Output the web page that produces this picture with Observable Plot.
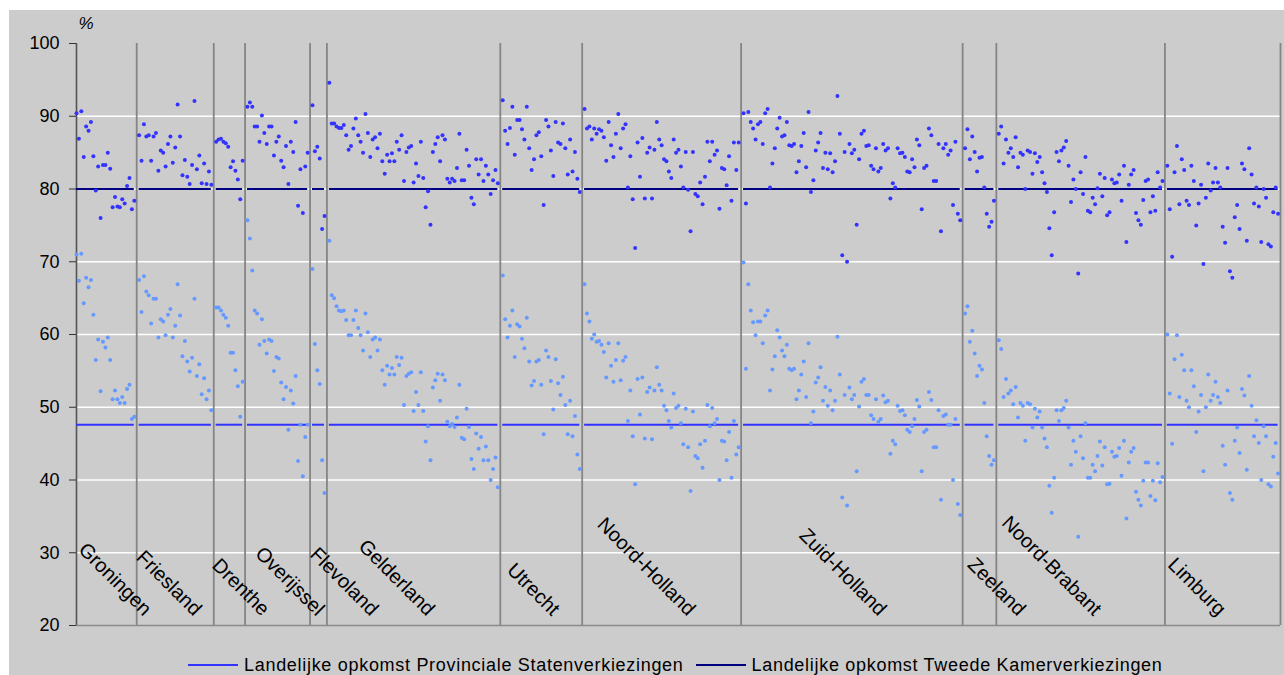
<!DOCTYPE html>
<html>
<head>
<meta charset="utf-8">
<script src="https://cdn.jsdelivr.net/npm/d3@7"></script>
<script src="https://cdn.jsdelivr.net/npm/@observablehq/plot@0.6"></script>
<style>
  body { margin: 0; background: #ffffff; font-family: "Liberation Sans", Arial, sans-serif; }
  #frame { position: absolute; left: 9px; top: 10px; width: 1275px; height: 665px; background: #cccccc; }
  #chart { position: absolute; left: 0; top: 0; }
  #legend { position: absolute; left: 188px; top: 650px; height: 30px; display: flex; align-items: center;
            font-size: 18px; letter-spacing: 0.7px; color: #000; white-space: nowrap; }
  .sw { display: inline-block; width: 50px; height: 2px; margin-right: 6px; }
  .item { display: flex; align-items: center; margin-right: 12px; }
</style>
</head>
<body>
<div id="frame"></div>
<div id="chart"></div>
<div id="legend"></div>
<script>
// ---- data (turnout %, one value per municipality, in chart order) ----
const provinces = ["Groningen","Friesland","Drenthe","Overijssel","Flevoland","Gelderland","Utrecht","Noord-Holland","Zuid-Holland","Zeeland","Noord-Brabant","Limburg"];

const psNational = 47.6;   // Landelijke opkomst Provinciale Statenverkiezingen
const tkNational = 80.0;   // Landelijke opkomst Tweede Kamerverkiezingen

const tkGroningen = [90.4,86.9,90.7,84.4,88.6,88.0,89.2,84.5,79.8,83.1,76.0,83.3,83.3,85.0,82.8,77.5,78.9,77.6,77.5,78.6,78.0,80.4,81.5,77.2,78.4];
const psGroningen = [71.0,67.4,71.1,64.3,67.8,66.5,67.5,62.7,56.5,59.3,52.2,59.0,58.2,59.6,56.5,51.1,52.3,51.1,50.6,51.4,50.6,52.5,53.1,48.4,48.7];

const tkFriesland = [87.4,83.9,88.9,87.2,87.4,83.9,87.2,87.7,82.5,85.3,85.0,83.1,86.2,87.2,83.6,85.7,91.6,87.2,81.9,84.0,81.7,80.7,83.3,92.1,82.7,84.6,80.8,83.5,80.7,82.4,80.6];
const psFriesland = [67.5,63.1,68.0,65.9,65.4,61.5,64.9,64.9,59.6,62.1,61.8,59.9,62.7,63.5,59.6,61.2,66.9,62.6,57.0,59.1,56.3,54.9,56.8,64.9,54.3,55.9,51.8,54.0,51.1,52.3,49.6];

const tkDrenthe = [86.5,86.8,86.9,86.5,86.3,85.8,83.0,83.8,82.5,81.3,78.6,83.9];
const psDrenthe = [63.7,63.7,63.3,62.7,62.3,61.2,57.5,57.5,55.1,52.9,48.7,53.5];

const tkOverijssel = [91.3,91.9,91.3,88.6,88.6,86.5,90.1,87.7,86.2,88.6,88.6,84.6,86.5,87.2,83.9,83.0,85.9,80.7,86.5,85.1,89.2,77.7,82.7,76.7,83.1,85.0];
const psOverijssel = [75.7,73.2,68.8,63.3,62.9,58.6,62.1,59.1,57.4,59.3,59.1,55.0,56.9,56.7,53.4,51.1,52.8,46.9,52.3,50.5,54.3,42.6,47.6,40.5,45.9,47.6];

const tkFlevoland = [91.5,85.2,85.8,84.2,74.5,76.3];
const psFlevoland = [69.0,58.7,55.1,53.2,42.7,38.2];

const tkGelderland = [94.6,89.0,89.0,88.6,88.4,88.4,88.8,87.4,85.4,85.9,88.3,89.7,87.4,86.5,85.0,90.3,87.7,84.4,86.8,87.1,85.6,87.6,83.8,82.1,84.7,83.8,84.9,83.8,86.5,85.4,87.4,81.1,85.1,85.7,85.9,80.9,83.5,81.8,86.5,81.5,77.5,79.7,75.1,85.1,86.2,87.1,83.8,87.4,86.8,81.4,80.9,81.4,81.1,82.9,87.6,81.2,81.2,85.4,83.2,78.8,77.9,84.1,82.0,84.1,81.1,83.2,82.0,79.3,81.2,82.6,80.8];
const psGelderland = [72.9,65.4,65.0,63.9,63.3,63.2,63.3,62.0,59.9,59.9,62.0,63.3,60.9,59.9,57.8,62.9,60.3,56.9,59.3,59.6,57.8,59.3,55.1,53.1,55.7,54.5,55.4,54.5,56.9,55.8,56.8,50.3,54.3,54.6,54.8,49.5,52.1,50.3,54.8,49.5,45.3,47.4,42.7,52.7,53.7,54.6,50.9,54.5,53.7,48.0,47.4,47.7,47.3,48.6,53.1,45.8,45.6,49.8,47.3,42.9,41.5,46.4,44.3,45.9,42.7,44.6,42.7,40.0,41.5,43.1,39.0];

const tkUtrecht = [92.2,88.0,86.2,88.4,91.3,84.7,89.5,89.5,88.2,86.8,91.3,85.6,82.6,84.1,87.4,87.8,84.5,77.8,89.5,88.6,85.3,81.8,89.2,86.4,86.2,89.0,85.6,82.0,86.8,82.4,85.1,81.4,79.6];
const psUtrecht = [68.1,62.1,59.6,61.2,63.3,56.9,61.4,61.1,59.4,58.1,62.3,56.3,53.0,53.6,56.3,56.5,53.1,46.3,57.8,56.9,53.6,49.7,56.6,53.3,51.7,54.2,50.3,46.3,50.9,46.0,48.8,43.5,41.5];

const tkNoordHolland = [91.0,88.3,88.6,86.8,88.3,87.6,88.2,88.0,87.1,83.9,89.2,86.0,84.4,87.6,90.3,85.6,88.3,88.9,80.2,84.5,78.6,71.9,86.4,81.7,87.0,78.7,85.0,85.7,78.7,85.4,89.2,86.8,86.0,84.1,83.8,82.4,81.5,86.8,85.0,85.4,83.1,80.2,85.1,79.9,74.2,85.1,79.3,79.0,80.9,77.9,81.7,86.5,83.8,86.5,84.7,85.3,77.3,82.9,82.7,80.5,84.5,78.4,86.4,82.6,86.4];
const psNoordHolland = [66.9,62.9,61.8,59.4,60.0,59.0,59.1,58.6,57.6,54.1,58.8,55.7,53.5,56.5,58.8,53.7,56.4,56.9,48.1,52.3,46.0,39.4,53.9,49.0,54.1,45.7,52.1,52.7,45.6,52.3,55.5,53.1,52.3,50.2,49.6,48.1,47.2,51.9,49.9,50.2,47.8,44.9,49.8,44.5,38.5,49.4,43.3,43.0,44.9,41.7,45.4,50.3,47.4,49.9,47.8,48.4,40.0,45.4,45.3,42.7,46.6,40.3,48.1,43.5,44.5];

const tkZuidHolland = [90.4,78.0,90.6,89.2,88.3,86.8,88.9,89.2,86.2,90.4,91.0,80.2,83.5,85.6,88.3,89.8,87.2,87.4,89.2,86.0,85.9,86.2,82.3,83.8,85.9,87.7,83.0,90.6,79.6,81.2,85.3,86.4,87.7,82.9,85.0,82.7,84.9,82.3,83.8,92.8,87.6,70.9,85.1,70.0,86.2,84.9,85.4,75.1,84.1,87.6,88.0,85.9,86.0,83.2,82.7,85.6,82.4,82.9,86.2,85.3,85.6,78.7,80.8,80.2,85.6,84.9,85.0,84.4,82.4,82.3,84.1,83.0,86.8,86.0,77.2,82.9,83.2,88.3,87.4,81.1,81.1,86.2,74.2,85.6,86.2,84.7,85.3,77.8,86.5,76.6,75.7];
const psZuidHolland = [69.9,55.3,66.9,63.3,61.7,59.9,61.8,61.8,58.8,62.6,63.3,52.3,55.2,57.0,60.6,59.6,57.8,57.0,58.6,55.3,55.1,55.3,51.1,52.3,54.5,56.3,51.4,58.8,47.8,49.4,53.4,54.1,55.5,50.9,52.8,50.2,52.3,49.6,50.9,59.7,54.5,37.6,51.7,36.5,52.7,51.1,51.7,41.2,50.1,53.5,53.9,51.7,51.7,48.9,48.4,51.1,48.0,48.4,51.6,50.7,50.9,43.6,45.4,44.9,50.2,49.5,49.6,48.9,46.9,46.6,47.4,48.4,51.0,50.1,41.2,46.6,46.9,52.1,51.0,44.5,44.5,49.6,37.3,48.8,49.0,47.6,47.6,40.0,48.4,36.7,35.2];

const tkZeeland = [85.6,88.2,84.1,87.2,85.1,82.4,84.3,84.4,80.2,76.6,74.8,75.5,78.4];
const psZeeland = [62.9,63.9,59.0,60.5,57.4,54.3,55.7,55.2,50.6,46.0,43.3,42.1,42.7];

const tkNoordBrabant = [87.6,88.6,83.5,86.8,85.0,85.6,84.4,87.1,83.0,85.0,84.7,80.0,85.3,85.1,82.1,84.9,83.7,84.4,82.3,80.8,79.6,74.6,70.9,76.8,85.1,83.8,85.3,85.7,86.6,83.2,78.2,81.3,80.0,68.4,82.3,79.3,84.4,77.0,76.8,78.8,77.9,80.1,82.1,79.0,81.5,76.4,76.8,81.3,80.8,80.9,82.0,78.4,83.2,72.7,80.6,82.0,82.6,76.7,75.7,75.1,78.5,81.1,81.3,76.8,79.0,77.0,82.3,80.2,81.1];
const psNoordBrabant = [59.2,58.0,51.4,53.9,51.9,52.3,50.4,52.8,48.6,50.6,50.2,45.4,50.6,50.4,47.2,49.8,48.6,49.4,47.2,45.7,44.5,39.2,35.5,40.3,49.6,48.1,49.6,49.9,50.9,47.2,42.1,45.4,43.9,32.2,46.0,43.0,47.8,40.3,40.3,42.1,41.2,43.3,45.3,42.0,44.5,39.4,39.5,43.9,43.2,43.3,44.4,40.6,45.4,34.7,42.4,43.9,44.4,38.4,37.3,36.5,39.9,42.4,42.4,37.8,39.9,37.2,42.3,39.7,40.4];

const tkLimburg = [83.2,77.2,70.7,82.3,85.9,77.9,84.1,82.6,78.4,77.8,83.2,81.1,75.0,78.0,80.6,69.7,78.8,83.5,79.8,80.9,82.9,80.9,80.2,74.8,72.6,82.9,68.7,67.8,76.1,77.8,74.5,83.5,82.7,72.9,85.6,82.0,78.0,80.2,77.6,72.7,80.0,78.8,72.4,72.1,76.8,80.2,76.6];
const psLimburg = [60.0,51.9,45.0,56.6,59.9,51.4,57.2,55.1,50.9,50.0,55.1,52.9,46.6,49.4,51.7,41.2,50.0,54.5,50.9,51.7,53.5,51.4,50.6,44.7,42.1,52.3,38.2,37.3,45.4,47.2,43.7,52.5,51.6,41.4,54.3,50.2,46.0,48.2,45.1,40.0,47.4,46.0,39.4,39.1,43.2,45.1,40.9];

// category slot (on the municipality axis) where each province name ends
const labelEndSlot = [27.8, 48.6, 76.8, 99.6, 122.0, 145.4, 197.3, 253.7, 333.0, 390.8, 422.3, 474.0];

const yTicks = [20, 30, 40, 50, 60, 70, 80, 90, 100];
const legendItems = ["Landelijke opkomst Provinciale Statenverkiezingen", "Landelijke opkomst Tweede Kamerverkiezingen"];

// ---- build tables ----
const tkByProvince = [tkGroningen, tkFriesland, tkDrenthe, tkOverijssel, tkFlevoland, tkGelderland, tkUtrecht, tkNoordHolland, tkZuidHolland, tkZeeland, tkNoordBrabant, tkLimburg];
const psByProvince = [psGroningen, psFriesland, psDrenthe, psOverijssel, psFlevoland, psGelderland, psUtrecht, psNoordHolland, psZuidHolland, psZeeland, psNoordBrabant, psLimburg];

const rows = [], segments = [], separators = [];
let slot = 0;
provinces.forEach((p, k) => {
  const start = slot;
  tkByProvince[k].forEach((v, j) => rows.push({province: p, slot: slot + j, tk: v, ps: psByProvince[k][j]}));
  slot += tkByProvince[k].length;
  segments.push({province: p, start, end: slot - 1});
  separators.push(slot);
  slot += 1;
});
const labels = provinces.map((p, k) => ({province: p, at: labelEndSlot[k]}));

const colPS = "#3333ff", colTK = "#000080", dotPS = "#6699ff", dotTK = "#3333ff";

const chart = Plot.plot({
  width: 1284, height: 640,
  marginLeft: 76, marginRight: 4, marginTop: 43, marginBottom: 15,
  style: {background: "transparent", fontFamily: "'Liberation Sans', Arial, sans-serif", color: "#000"},
  x: {domain: [0, separators[separators.length - 1]], axis: null},
  y: {domain: [20, 100], axis: null},
  marks: [
    Plot.ruleY(yTicks.filter(d => d > 20 && d < 100), {stroke: "#ffffff", strokeWidth: 1.5}),
    Plot.ruleX(separators, {y1: 20, y2: 100, stroke: "#858585", strokeWidth: 1.8}),
    Plot.ruleY([20], {stroke: "#8a8a8a", strokeWidth: 1.6}),
    Plot.ruleX([0], {y1: 20, y2: 100, stroke: "#555555", strokeWidth: 1.6}),
    Plot.axisY({ticks: yTicks, tickSize: 7, tickPadding: 10, fontSize: 18, label: null, stroke: "#333333", tickFormat: d => String(d)}),
    Plot.ruleY(segments, {x1: "start", x2: "end", y: () => psNational, stroke: colPS, strokeWidth: 2}),
    Plot.ruleY(segments, {x1: "start", x2: "end", y: () => tkNational, stroke: colTK, strokeWidth: 2}),
    Plot.dot(rows, {x: "slot", y: "ps", r: 2, fill: dotPS, stroke: "none"}),
    Plot.dot(rows, {x: "slot", y: "tk", r: 2, fill: dotTK, stroke: "none"}),
    Plot.text(labels, {x: "at", y: () => 21.2, text: "province", rotate: 45, textAnchor: "end", lineAnchor: "bottom", fontSize: 20, fill: "#000"}),
    Plot.text(["%"], {x: () => 0, y: () => 100, text: d => d, dx: 2, dy: -15, textAnchor: "start", lineAnchor: "bottom", fontSize: 17, fontStyle: "italic", fill: "#000"})
  ]
});
document.getElementById("chart").appendChild(chart);

// legend below the SVG
const legend = d3.select("#legend");
[[legendItems[0], colPS], [legendItems[1], colTK]].forEach(([t, c]) => {
  const it = legend.append("div").attr("class", "item");
  it.append("span").attr("class", "sw").style("background", c);
  it.append("span").text(t);
});
</script>
</body>
</html>
